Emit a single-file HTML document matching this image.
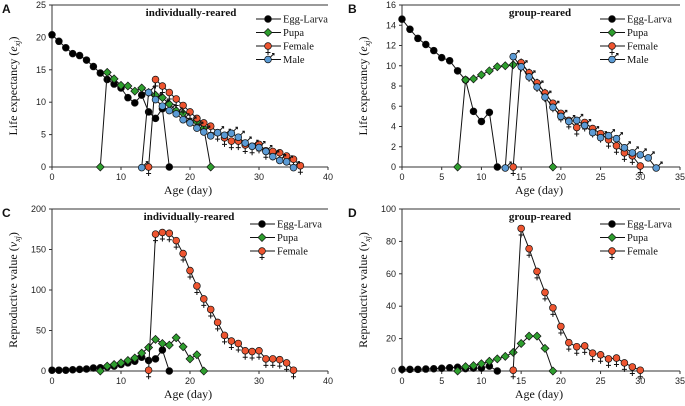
<!DOCTYPE html>
<html><head><meta charset="utf-8"><style>
body{margin:0;background:#fff;width:685px;height:406px;overflow:hidden}
svg{display:block}
.tk{font:9px "Liberation Sans",sans-serif;fill:#222}
.lg{font:10.5px "Liberation Serif",serif;fill:#111}
.tt{font:bold 11px "Liberation Serif",serif;fill:#111}
.ax{font:12px "Liberation Serif",serif;fill:#111}
.pl{font:bold 12px "Liberation Sans",sans-serif;fill:#111}
</style></head><body>
<svg id="c" width="685" height="406"></svg>
<script>
// Panel A: individually-reared life expectancy
const aEggDays=[0,1,2,3,4,5,6,7,8,9,10,11,12,13,14,15,16,17];
const aEggVals=[20.4,19.4,18.4,17.5,17.2,16.5,15.5,14.5,13.5,12.8,12.2,10.7,9.9,11.1,8.5,7.5,9,0];
const aPupaDays=[7,8,9,10,11,12,13,14,15,16,17,18,19,20,21,22,23];
const aPupaVals=[0,14.6,13.6,12.6,12.5,11.7,12.2,11.5,11.1,10.7,9.7,8.7,8.3,7.0,7.0,6.0,0];
const aFemDays=[14,15,16,17,18,19,20,21,22,23,24,25,26,27,28,29,30,31,32,33,34,35,36];
const aFemVals=[0,13.5,12.5,11.5,10.5,9.5,8.5,7.5,6.8,6.3,5.3,4.5,4.0,4.0,3.4,3.2,3.5,2.5,2.4,2.2,1.7,1.2,0.2];
const aMaleDays=[13,14,15,16,17,18,19,20,21,22,23,24,25,26,27,28,29,30,31,32,33,34,35];
const aMaleVals=[-0.1,11.5,10.4,9.4,8.7,8.2,7.3,6.8,6.0,5.4,4.8,5.3,4.9,5.2,4.6,3.7,3.2,3.0,2.4,1.6,1.0,0.8,-0.1];
// Panel B: group-reared life expectancy
const bEggDays=[0,1,2,3,4,5,6,7,8,9,10,11,12];
const bEggVals=[14.6,13.6,12.7,12.1,11.5,10.8,10.5,9.5,8.6,5.5,4.5,5.4,0];
const bPupaDays=[7,8,9,10,11,12,13,14,15,16,17,18,19];
const bPupaVals=[0,8.6,8.7,9.1,9.5,9.9,10.0,10.1,10.3,9.3,8.3,7.3,0];
const bFemDays=[14,15,16,17,18,19,20,21,22,23,24,25,26,27,28,29,30];
const bFemVals=[0,10.3,9.3,8.3,7.3,6.3,5.3,4.6,3.9,4.4,3.8,3.3,2.7,2.1,1.4,1.1,0.1];
const bMaleDays=[13,14,15,16,17,18,19,20,21,22,23,24,25,26,27,28,29,30,31,32];
const bMaleVals=[-0.1,10.9,9.9,8.9,7.9,6.9,5.9,5.0,4.5,4.6,4.1,3.4,2.9,3.1,2.8,1.9,1.4,1.2,0.9,-0.1];
// Panel C: individually-reared reproductive value
const cEggDays=[0,1,2,3,4,5,6,7,8,9,10,11,12,13,14,15,16,17];
const cEggVals=[1,1,1,1.5,2,2.5,3.7,4,5,6,8,10,12,17,13,15,26,0];
const cPupaDays=[7,8,9,10,11,12,13,14,15,16,17,18,19,20,21,22];
const cPupaVals=[0,6,8,10,13,16,22,29,39,34,32,41,30,15,20,0];
const cFemDays=[14,15,16,17,18,19,20,21,22,23,24,25,26,27,28,29,30,31,32,33,34,35];
const cFemVals=[1,169,171,170,161,145,124,105,89,76,60,44,37,34,25,24,25,15,15,14,10,1];
// Panel D: group-reared reproductive value
const dEggDays=[0,1,2,3,4,5,6,7,8,9,10,11,12];
const dEggVals=[1,1,1,1.2,1.4,1.7,2,2.3,1.5,1.8,1.8,3,0];
const dPupaDays=[7,8,9,10,11,12,13,14,15,16,17,18,19];
const dPupaVals=[0,2.7,3.3,4.5,6,7.5,9,11.5,17,21.5,21.5,14,0];
const dFemDays=[14,15,16,17,18,19,20,21,22,23,24,25,26,27,28,29,30];
const dFemVals=[0.5,88,75.5,61.5,48.5,39,27.5,17.5,15,15.5,11,10,7.5,8,5,2.5,0.5];
// tick labels
const xTicks40=[0,10,20,30,40];
const xTicks35=[0,5,10,15,20,25,30,35];
const yTicksA=[0,5,10,15,20,25];
const yTicksB=[0,2,4,6,8,10,12,14,16];
const yTicksC=[0,50,100,150,200];
const yTicksD=[0,20,40,60,80,100];

const NS='http://www.w3.org/2000/svg';
const svg=document.getElementById('c');
function mk(tag,attrs,parent,txt){const e=document.createElementNS(NS,tag);for(const k in attrs)e.setAttribute(k,attrs[k]);if(txt!==undefined)e.textContent=txt;(parent||svg).appendChild(e);return e;}
const COL={egg:'#000',pupa:'#2e9e2e',fem:'#ee5530',male:'#5b9bd5'};

function marker(g,type,x,y){
  if(type==='pupa'){mk('polygon',{points:`${x},${y-4} ${x+4},${y} ${x},${y+4} ${x-4},${y}`,fill:COL.pupa,stroke:'#111','stroke-width':0.7},g);return;}
  if(type==='fem'){mk('path',{d:`M${x} ${y+3}V${y+9}M${x-2.5} ${y+6.5}H${x+2.5}`,stroke:'#111','stroke-width':1,fill:'none'},g);}
  if(type==='male'){mk('path',{d:`M${x+2} ${y-2}L${x+6} ${y-6}M${x+4} ${y-6}H${x+6}V${y-4}`,stroke:'#111','stroke-width':1,fill:'none'},g);}
  mk('circle',{cx:x,cy:y,r:3.4,fill:COL[type],stroke:'#111','stroke-width':0.7},g);
}

function panel(o){
  const g=mk('g',{});
  
  
  const sx=v=>o.x0+(v-o.xmin)/(o.xmax-o.xmin)*(o.x1-o.x0);
  const sy=v=>o.y0-(v)/(o.ymax)*(o.y0-o.y1);
  const ax=mk('path',{d:`M${o.x0} ${o.y1}V${o.y0}H${o.x1}M${o.x0} ${o.y1}H${o.x1}`,stroke:'#333','stroke-width':1,fill:'none'},g);
  
  
  o.xt.forEach(v=>{const X=sx(v);mk('line',{x1:X,y1:o.y0,x2:X,y2:o.y0+3,stroke:'#333'},g);
    const t=mk('text',{x:X,y:o.y0+13,'text-anchor':'middle',class:'tk'},g,v);
    
    });
  o.yt.forEach(v=>{const Y=sy(v);mk('line',{x1:o.x0-3,y1:Y,x2:o.x0,y2:Y,stroke:'#333'},g);
    const t=mk('text',{x:o.x0-6,y:Y+3,'text-anchor':'end',class:'tk'},g,v);
    
    });
  const lt=mk('text',{x:o.lx,y:o.y1+8,class:'pl'},g,o.letter);
  
  
  const tt=mk('text',{x:o.tx,y:o.y1+11,'text-anchor':'middle',class:'tt'},g,o.title);
  
  
  const xt=mk('text',{x:(o.x0+o.x1)/2-2,y:o.y0+27,'text-anchor':'middle',class:'ax'},g,'Age (day)');
  
  
  const yt=mk('text',{transform:`translate(${o.yx},${(o.y0+o.y1)/2}) rotate(-90)`,'text-anchor':'middle',class:'ax'},g);
  
  
  mk('tspan',{},yt,o.ylab+' (');
  mk('tspan',{'font-style':'italic'},yt,o.ysym);
  mk('tspan',{'font-style':'italic','font-size':'8px',dy:3},yt,'xj');
  mk('tspan',{dy:-3},yt,')');
  o.series.forEach(s=>{
    const sg=mk('g',{},g);
    
    
    const pts=s.d.map((d,i)=>sx(d)+','+sy(s.v[i])).join(' ');
    mk('polyline',{points:pts,fill:'none',stroke:'#111','stroke-width':1},sg);
    s.d.forEach((d,i)=>marker(sg,s.type,sx(d),sy(s.v[i])));
  });
  o.series.forEach((s,i)=>{
    const le=mk('g',{},g);
    
    
    const Y=o.ly+i*13.5;
    mk('line',{x1:o.lmx-12,y1:Y,x2:o.lmx+13,y2:Y,stroke:'#111'},le);
    marker(le,s.type,o.lmx,Y);
    mk('text',{x:o.lmx+15,y:Y+3.5,class:'lg'},le,s.label);
  });
}
panel({name:'panel-a',letter:'A',lx:2,x0:52,x1:328,y0:167,y1:5,xmin:0,xmax:40,ymax:25,xt:xTicks40,yt:yTicksA,
  title:'individually-reared',tx:191,yx:17,ylab:'Life expectancy',ysym:'e',ly:19,lmx:268,
  series:[{label:'Egg-Larva',type:'egg',d:aEggDays,v:aEggVals},{label:'Pupa',type:'pupa',d:aPupaDays,v:aPupaVals},
  {label:'Female',type:'fem',d:aFemDays,v:aFemVals},{label:'Male',type:'male',d:aMaleDays,v:aMaleVals}]});
panel({name:'panel-b',letter:'B',lx:348,x0:402,x1:680,y0:167,y1:5,xmin:0,xmax:35,ymax:16,xt:xTicks35,yt:yTicksB,
  title:'group-reared',tx:540,yx:367,ylab:'Life expectancy',ysym:'e',ly:19,lmx:612,
  series:[{label:'Egg-Larva',type:'egg',d:bEggDays,v:bEggVals},{label:'Pupa',type:'pupa',d:bPupaDays,v:bPupaVals},
  {label:'Female',type:'fem',d:bFemDays,v:bFemVals},{label:'Male',type:'male',d:bMaleDays,v:bMaleVals}]});
panel({name:'panel-c',letter:'C',lx:2,x0:52,x1:328,y0:371,y1:209,xmin:0,xmax:40,ymax:200,xt:xTicks40,yt:yTicksC,
  title:'individually-reared',tx:189,yx:17,ylab:'Reproductive value',ysym:'v',ly:224,lmx:262,
  series:[{label:'Egg-Larva',type:'egg',d:cEggDays,v:cEggVals},{label:'Pupa',type:'pupa',d:cPupaDays,v:cPupaVals},
  {label:'Female',type:'fem',d:cFemDays,v:cFemVals}]});
panel({name:'panel-d',letter:'D',lx:348,x0:402,x1:680,y0:371,y1:209,xmin:0,xmax:35,ymax:100,xt:xTicks35,yt:yTicksD,
  title:'group-reared',tx:540,yx:367,ylab:'Reproductive value',ysym:'v',ly:224,lmx:612,
  series:[{label:'Egg-Larva',type:'egg',d:dEggDays,v:dEggVals},{label:'Pupa',type:'pupa',d:dPupaDays,v:dPupaVals},
  {label:'Female',type:'fem',d:dFemDays,v:dFemVals}]});
</script>
</body></html>
